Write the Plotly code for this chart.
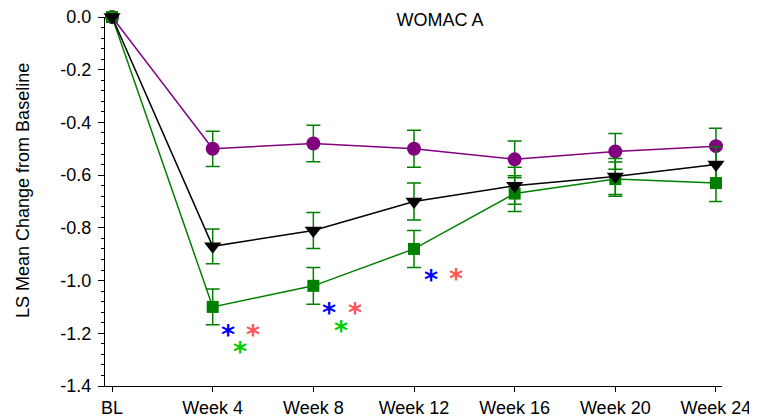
import plotly.graph_objects as go

categories = ["BL", "Week 4", "Week 8", "Week 12", "Week 16", "Week 20", "Week 24"]
x_idx = [0, 1, 2, 3, 4, 5, 6]

purple_vals = [0.0, -0.50, -0.48, -0.50, -0.54, -0.51, -0.49]
purple_err = [0.0, 0.067, 0.069, 0.070, 0.070, 0.068, 0.068]

green_vals = [0.0, -1.10, -1.02, -0.88, -0.67, -0.615, -0.63]
green_err = [0.0, 0.068, 0.070, 0.070, 0.068, 0.065, 0.070]

black_vals = [0.0, -0.87, -0.81, -0.70, -0.64, -0.605, -0.56]
black_err = [0.0, 0.066, 0.068, 0.070, 0.070, 0.068, 0.068]

y_tickvals = [0, -0.2, -0.4, -0.6, -0.8, -1.0, -1.2, -1.4]
y_ticktext = ["0.0", "-0.2", "-0.4", "-0.6", "-0.8", "-1.0", "-1.2", "-1.4"]

# significance asterisks (x position in category index units, y value)
sig_x = [1.15, 1.40, 1.27, 2.16, 2.41, 2.27, 3.17, 3.42]
sig_y = [-1.18, -1.18, -1.245, -1.10, -1.10, -1.165, -0.975, -0.97]
sig_color = ["#0000ff", "#ff5555", "#00cc00", "#0000ff", "#ff5555", "#00cc00", "#0000ff", "#ff5555"]

FONT = "Liberation Sans, Arial, sans-serif"
ERR_COLOR = "#008000"

# page body has an 8px default margin; figure sized so the plot area lands where the reference has it
W, H = 749, 412

fig = go.Figure()

def add_series(vals, errs, color, symbol, size):
    fig.add_trace(go.Scatter(
        x=x_idx, y=vals, mode="lines+markers",
        line=dict(color=color, width=1.5),
        marker=dict(color=color, symbol=symbol, size=size, line=dict(width=0)),
        error_y=dict(type="data", array=errs, visible=True, color=ERR_COLOR,
                     thickness=1.5, width=7),
        cliponaxis=False, showlegend=False,
    ))

add_series(purple_vals, purple_err, "#800080", "circle", 14)
add_series(green_vals, green_err, "#008000", "square", 12)
add_series(black_vals, black_err, "#000000", "triangle-down", 15)

for sx, sy, sc in zip(sig_x, sig_y, sig_color):
    fig.add_annotation(x=sx, y=sy, text="<b>*</b>", showarrow=False, xref="x", yref="y",
                       font=dict(family="DejaVu Sans", size=27, color=sc),
                       yshift=-6)

# y axis title placed as rotated annotation
fig.add_annotation(text="LS Mean Change from Baseline", textangle=-90, showarrow=False,
                   xref="paper", yref="paper", x=-82 / 617, y=0.5285,
                   xanchor="center", yanchor="middle",
                   font=dict(family=FONT, size=18, color="#000"))

fig.update_layout(
    width=W, height=H,
    margin=dict(l=97, r=35, t=9, b=34, autoexpand=False),
    paper_bgcolor="white", plot_bgcolor="white",
    font=dict(family=FONT, size=17, color="#000"),
    title=dict(text="WOMAC A", x=432 / W, xanchor="center", y=1 - 12 / H, yanchor="middle",
               font=dict(family=FONT, size=18, color="#000")),
)

fig.update_xaxes(
    range=[-0.07, 6.06], tickvals=x_idx, ticktext=categories,
    showline=True, linecolor="#000", linewidth=1, automargin=False,
    ticks="outside", ticklen=5, tickcolor="#000", showgrid=False, zeroline=False,
    tickfont=dict(family=FONT, size=18), ticklabeloverflow="allow",
)
fig.update_yaxes(
    range=[-1.4, 0.0], tickvals=y_tickvals, ticktext=y_ticktext,
    showline=True, linecolor="#000", linewidth=1, automargin=False,
    ticks="outside", ticklen=6, tickcolor="#000", showgrid=False, zeroline=False,
    minor=dict(ticks="outside", dtick=0.04, tick0=0, ticklen=3, tickcolor="#000", showgrid=False),
    tickfont=dict(family=FONT, size=18), ticklabeloverflow="allow", ticklabelstandoff=3,
)

fig.write_html("out.html")
